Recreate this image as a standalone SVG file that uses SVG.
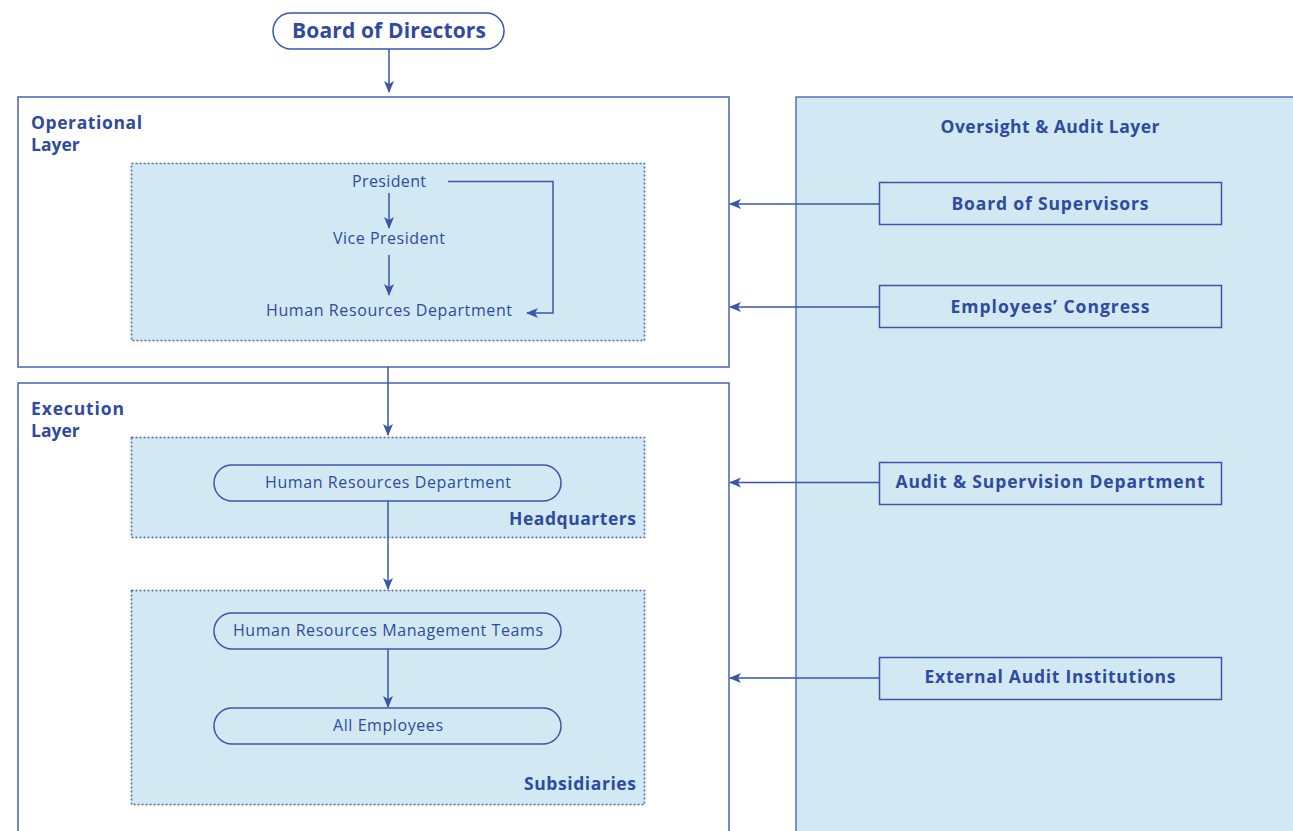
<svg xmlns="http://www.w3.org/2000/svg" width="1293" height="831" viewBox="0 0 1293 831">
  <defs>
    <style>
      .layer { fill: #ffffff; stroke: #4a63b3; stroke-width: 1.5; }
      .panel { fill: #d2e9f3; stroke: #4a63b3; stroke-width: 1.5; stroke-dasharray: 2 2; }
      .side { fill: #d2e9f3; stroke: #5870bb; stroke-width: 1.5; }
      .pill { fill: #d2e9f3; stroke: #3b55aa; stroke-width: 1.5; }
      .box { fill: #d2e9f3; stroke: #3b55aa; stroke-width: 1.5; }
      .conn { fill: none; stroke: #3b55aa; stroke-width: 1.5; marker-end: url(#arrow); }
      text { font-family: "Open Sans", "Noto Sans", "Liberation Sans", sans-serif; fill: #2f4aa0; }
      .title { font-size: 21px; font-weight: 700; text-anchor: middle; }
      .head { font-size: 17.5px; font-weight: 700; }
      .lbl { font-size: 16px; font-weight: 400; text-anchor: middle; }
      .blbl { font-size: 17.5px; font-weight: 700; text-anchor: middle; }
      .end { font-size: 17.5px; font-weight: 700; text-anchor: end; }
    </style>
    <marker id="arrow" viewBox="0 0 12 12" refX="11" refY="6" markerWidth="12" markerHeight="12" markerUnits="userSpaceOnUse" orient="auto">
      <path d="M0,1 L12,6 L0,11 L3,6 Z" fill="#3b55aa"/>
    </marker>
  </defs>

  <!-- Side layer -->
  <g id="oversight-layer">
    <rect class="side" x="796" y="97" width="510" height="750"/>
    <text class="blbl" x="1050" y="133" textLength="219" font-weight="600">Oversight &amp; Audit Layer</text>
  </g>

  <!-- Operational layer -->
  <g id="operational-layer">
    <rect class="layer" x="18" y="97" width="711" height="270"/>
    <text class="head" x="31" y="129" textLength="111">Operational</text>
    <text class="head" x="31" y="151">Layer</text>
  </g>
  <g id="executive-panel">
    <rect class="panel" x="131.5" y="163.5" width="513" height="177"/>
  </g>
  <g id="president"><text class="lbl" x="389" y="187" textLength="74">President</text></g>
  <g id="vice-president"><text class="lbl" x="389" y="244" textLength="112">Vice President</text></g>
  <g id="hr-ops"><text class="lbl" x="389" y="316" textLength="246">Human Resources Department</text></g>

  <!-- Execution layer -->
  <g id="execution-layer">
    <rect class="layer" x="18" y="383" width="711" height="470"/>
    <text class="head" x="31" y="415" textLength="93">Execution</text>
    <text class="head" x="31" y="437">Layer</text>
  </g>
  <g id="headquarters">
    <rect class="panel" x="131.5" y="437.5" width="513" height="100"/>
    <text class="end" x="636" y="525" textLength="127">Headquarters</text>
  </g>
  <g id="subsidiaries">
    <rect class="panel" x="131.5" y="590.5" width="513" height="214"/>
    <text class="end" x="636" y="790" textLength="112">Subsidiaries</text>
  </g>
  <g id="hr-hq">
    <rect class="pill" x="214" y="465" width="347" height="36" rx="18"/>
    <text class="lbl" x="388" y="488" textLength="246">Human Resources Department</text>
  </g>
  <g id="hr-teams">
    <rect class="pill" x="214" y="613" width="347" height="36" rx="18"/>
    <text class="lbl" x="388" y="636" textLength="310">Human Resources Management Teams</text>
  </g>
  <g id="all-employees">
    <rect class="pill" x="214" y="708" width="347" height="36" rx="18"/>
    <text class="lbl" x="388" y="731" textLength="110">All Employees</text>
  </g>

  <!-- Top node -->
  <g id="board-of-directors">
    <rect class="pill" x="273" y="13" width="231" height="36" rx="18" style="fill:#ffffff"/>
    <text class="title" x="389" y="38" textLength="194">Board of Directors</text>
  </g>

  <!-- Oversight bodies -->
  <g id="board-of-supervisors">
    <rect class="box" x="879.5" y="182.5" width="342" height="42"/>
    <text class="blbl" x="1050" y="210" textLength="197">Board of Supervisors</text>
  </g>
  <g id="employees-congress">
    <rect class="box" x="879.5" y="285.5" width="342" height="42"/>
    <text class="blbl" x="1050" y="313" textLength="199">Employees’ Congress</text>
  </g>
  <g id="audit-supervision">
    <rect class="box" x="879.5" y="462.5" width="342" height="42"/>
    <text class="blbl" x="1050" y="488" textLength="309">Audit &amp; Supervision Department</text>
  </g>
  <g id="external-audit">
    <rect class="box" x="879.5" y="657.5" width="342" height="42"/>
    <text class="blbl" x="1050" y="683" textLength="251">External Audit Institutions</text>
  </g>

  <!-- Connectors -->
  <g id="connectors">
    <path class="conn" d="M389,49 V92"/>
    <path class="conn" d="M389,193 V228"/>
    <path class="conn" d="M389,255 V295"/>
    <path class="conn" d="M448,181.5 H553 V313 H527"/>
    <path class="conn" d="M388,367 V435"/>
    <path class="conn" d="M388,501 V589"/>
    <path class="conn" d="M388,649 V707"/>
    <path class="conn" d="M879,204 H730"/>
    <path class="conn" d="M879,307 H730"/>
    <path class="conn" d="M879,482.5 H730"/>
    <path class="conn" d="M879,678 H730"/>
  </g>
</svg>
